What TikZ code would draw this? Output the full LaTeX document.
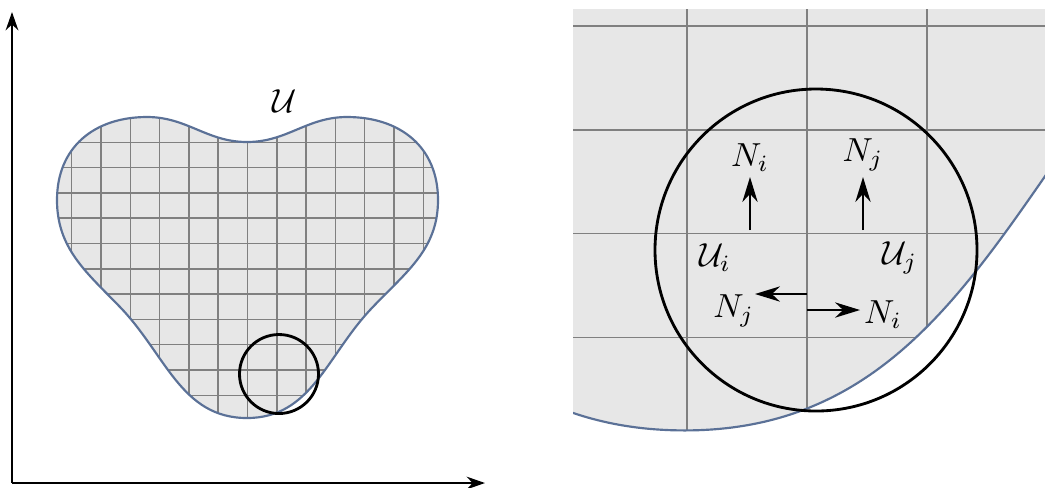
\documentclass[tikz,border=0pt]{standalone}
\usepackage{amsmath,amssymb}
\usepackage{tikz}
\usetikzlibrary{arrows.meta}
\definecolor{regiongray}{HTML}{E7E7E7}
\definecolor{edgeblue}{HTML}{5B7197}
\newcommand{\heartpath}{(247,142) to[out=0,in=180] (347,117)
  to[out=0,in=90,looseness=1.1] (438,200) to[out=-90,in=47] (370,310)
  to[out=-133,in=0] (247,418) to[out=180,in=-46] (120,307)
  to[out=134,in=-90] (57,200) to[out=90,in=180,looseness=1.1] (147,117)
  to[out=0,in=180] (247,142) -- cycle}
\newcommand{\heartgrid}{
  \foreach \k in {-7,...,7} \draw[gridline] ({247.5+29.3*\k},100) -- ({247.5+29.3*\k},430);
  \foreach \k in {-10,...,3} \draw[gridline] (40,{370+25.3*\k}) -- (450,{370+25.3*\k});
}

\begin{document}
\begin{tikzpicture}[x=0.3pt, y=-0.3pt,
  gridline/.style={black!50, line width=0.45pt},
  outline/.style={edgeblue, line width=0.65pt},
  ring/.style={black, line width=0.85pt},
  axis/.style={line width=0.7pt, -{Stealth[length=5.5pt,width=3.8pt]}},
  nvec/.style={line width=0.5pt, -{Stealth[length=7.5pt,width=4.6pt]}}]
\useasboundingbox (0,0) rectangle (1045,487);
% whole region
\fill[regiongray] \heartpath;
\begin{scope}
  \clip \heartpath;
  \heartgrid
\end{scope}
\draw[outline] \heartpath;
\draw[ring] (279,374) circle[radius=39.5];
\node (U) at (285,101) {$\mathcal{U}$};
\coordinate (orig) at (12,483);
\coordinate (ytop) at (12,12);
\coordinate (xend) at (485,483);
\draw[axis] (orig) -- (ytop);
\draw[axis] (orig) -- (xend);
% magnified view
\begin{scope}
  \clip (573,9) rectangle (1045,487);
  \begin{scope}[shift={(816,250)}, scale=4.1, shift={(-279,-374)}]
    \fill[regiongray] \heartpath;
    \begin{scope}
      \clip \heartpath;
      \heartgrid
    \end{scope}
    \draw[outline] \heartpath;
  \end{scope}
\end{scope}
\draw[ring] (816,250) circle[radius=161];
\node (Ui) at (715,258) {$\mathcal{U}_i$};
\node (Uj) at (900,258) {$\mathcal{U}_j$};
\coordinate (ti) at (750,230);
\coordinate (tj) at (863,230);
\coordinate (ml) at (807,294);
\coordinate (mr) at (807,310);
\draw[nvec] (ti) -- ++(0,-53) node[above, inner sep=1.5pt] (Nit) {$N_i$};
\draw[nvec] (tj) -- ++(0,-53) node[above, inner sep=1.5pt] (Njt) {$N_j$};
\draw[nvec] (ml) -- ++(-52,0) node[below left, inner sep=0pt] (Njb) {$N_j$};
\draw[nvec] (mr) -- ++(53,0) node[right, inner sep=1pt, yshift=-1.5pt] (Nib) {$N_i$};
\end{tikzpicture}
\end{document}
